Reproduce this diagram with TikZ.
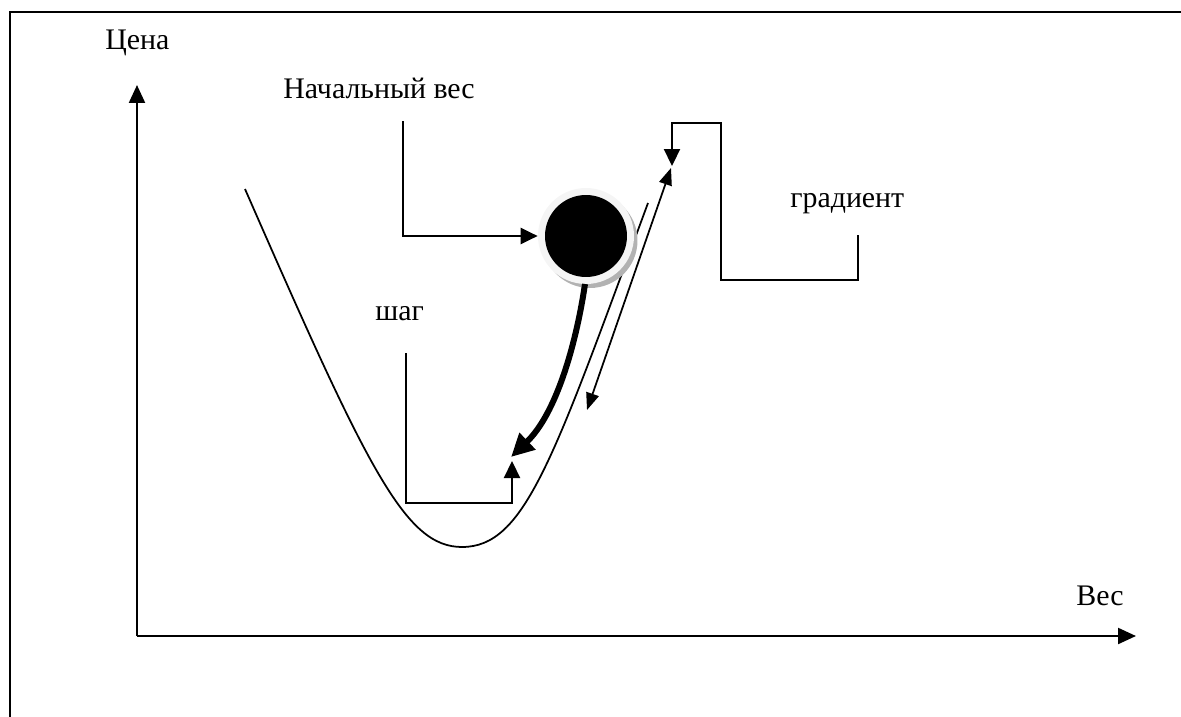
\documentclass[tikz,border=0pt]{standalone}
\usepackage{fontspec}
\setmainfont{Liberation Serif}
\usetikzlibrary{arrows.meta}
\begin{document}
\begin{tikzpicture}[x=0.02cm,y=-0.02cm,
  lbl/.style={anchor=base west,inner sep=0pt,font=\fontsize{17}{20}\selectfont},
  axis/.style={line width=0.045cm,-{Triangle[length=0.36cm,width=0.32cm]}},
  conn/.style={line width=0.045cm,-{Triangle[length=0.34cm,width=0.32cm]}},
  curveline/.style={line width=0.035cm},
  dbl/.style={line width=0.035cm,{Triangle[length=0.34cm,width=0.26cm]}-{Triangle[length=0.34cm,width=0.26cm]}},
  thick arrow/.style={line width=0.12cm,-{Triangle[length=0.46cm,width=0.44cm]}}]
\useasboundingbox (0,0) rectangle (1181,717);
% frame
\draw[line width=0.055cm] (10,717) -- (10,12) -- (1181,12);
% axes
\coordinate (O) at (137,636);
\coordinate (ytip) at (137,85);
\coordinate (xtip) at (1136,636);
\draw[axis] (O) -- (ytip);
\draw[axis] (O) -- (xtip);
% labels
\node[lbl] (price) at (105,49) {Цена};
\node[lbl] (init) at (283,98) {Начальный вес};
\node[lbl] (grad) at (790,207) {градиент};
\node[lbl] (step) at (375,320) {шаг};
\node[lbl] (weight) at (1076,605) {Вес};
% cost curve
\coordinate (cstart) at (245,189);
\coordinate (cmin) at (462,547);
\coordinate (cend) at (648,203);
\draw[curveline] (cstart) .. controls (368,470) and (405,547) .. (cmin)
                 .. controls (525,547) and (553,460) .. (cend);
% ball
\fill[gray!60] (590,240.5) circle (0.95cm);
\node[circle,minimum size=1.92cm,inner sep=0pt,fill=gray!8] (ball) at (586,236) {};
\fill[black] (ball.center) circle (0.82cm);
% initial weight connector
\coordinate (istart) at (403,121);
\draw[conn] (istart) |- (ball.west);
% thick step arrow
\coordinate (bstart) at (585,284);
\coordinate (bend) at (511,457);
\draw[thick arrow] (bstart) .. controls (576,345) and (556,414) .. (bend);
% step connector
\coordinate (sstart) at (406,353);
\coordinate (stip) at (512,461);
\draw[conn] (sstart) -- ++(0,150) -| (stip);
% double arrow (gradient direction)
\coordinate (dbot) at (587,410);
\coordinate (dtop) at (671,168);
\draw[dbl] (dbot) -- (dtop);
% gradient connector
\coordinate (gstart) at (858,235);
\coordinate (gtip) at (672,166);
\draw[conn] (gstart) -- ++(0,45) -- ++(-137,0) -- ++(0,-157) -| (gtip);
\end{tikzpicture}
\end{document}
